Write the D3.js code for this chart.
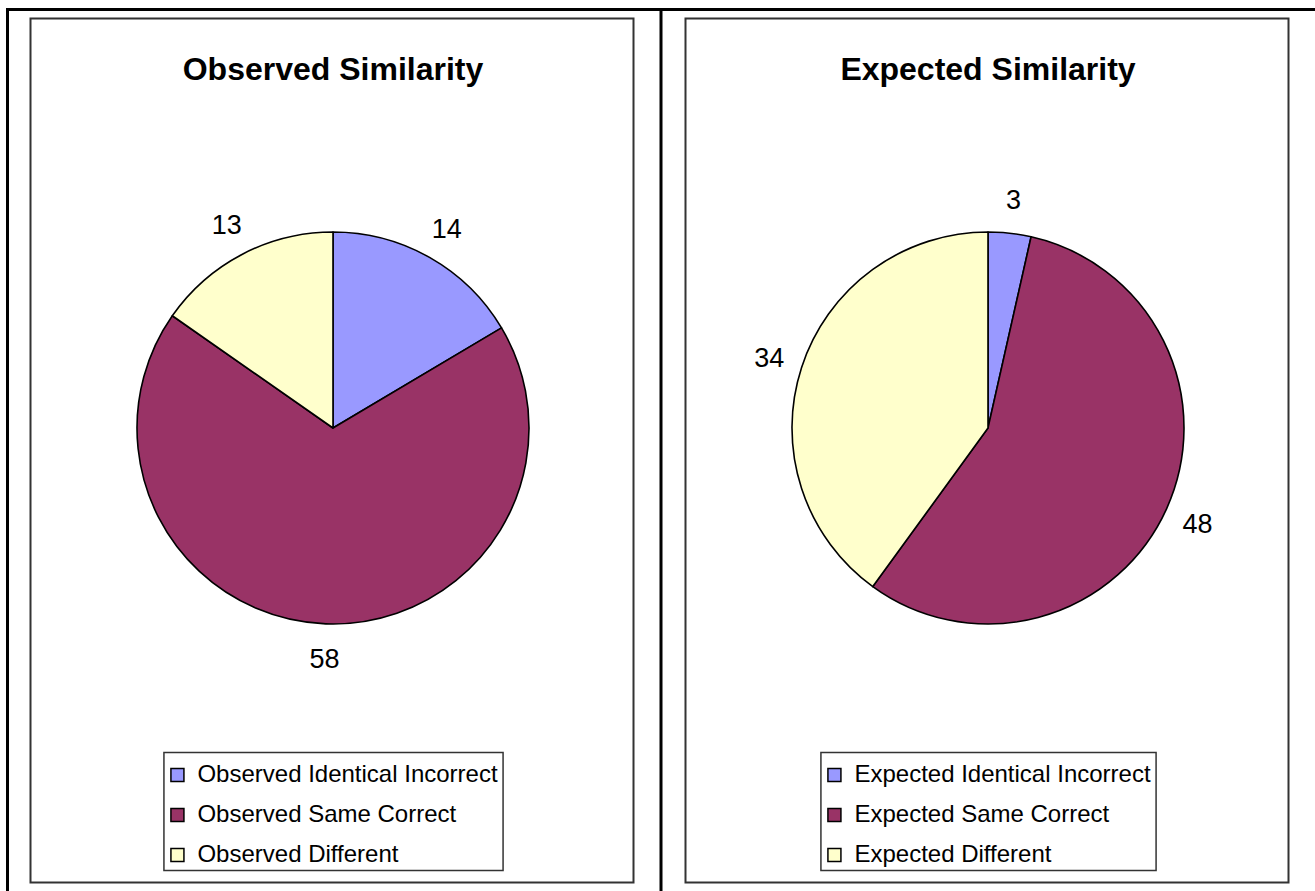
<!DOCTYPE html>
<html>
<head>
<meta charset="utf-8">
<script src="https://cdn.jsdelivr.net/npm/d3@7"></script>
<style>
  body { margin: 0; background: #fff; }
  text { font-family: "Liberation Sans", Arial, sans-serif; fill: #000; }
</style>
</head>
<body>
<script>
// Chart data
const categories = ["Identical Incorrect", "Same Correct", "Different"];
const observedValues = [14, 58, 13];
const expectedValues = [3, 48, 34];
const panelTitles = ["Observed Similarity", "Expected Similarity"];
const seriesPrefixes = ["Observed", "Expected"];
const sliceColors = ["#9999FF", "#993366", "#FFFFCC"];

// Page and panel dimensions
const svgWidth = 1315;
const svgHeight = 891;
const panelOffset = 655;
const pieRadius = 196;
const labelRadius = 230;

const svg = d3.select("body")
  .append("svg")
  .attr("width", svgWidth)
  .attr("height", svgHeight);

// Outer table lines (top, left, middle)
svg.append("line").attr("x1", 6).attr("x2", svgWidth).attr("y1", 9.5).attr("y2", 9.5)
  .attr("stroke", "#000").attr("stroke-width", 3);
svg.append("line").attr("x1", 7.5).attr("x2", 7.5).attr("y1", 8).attr("y2", svgHeight)
  .attr("stroke", "#000").attr("stroke-width", 3);
svg.append("line").attr("x1", 661).attr("x2", 661).attr("y1", 8).attr("y2", svgHeight)
  .attr("stroke", "#000").attr("stroke-width", 3);

const color = d3.scaleOrdinal().domain(categories).range(sliceColors);

const pie = d3.pie().sort(null).value(d => d.value);
const arc = d3.arc().innerRadius(0).outerRadius(pieRadius);
const labelArc = d3.arc().innerRadius(labelRadius).outerRadius(labelRadius);

[observedValues, expectedValues].forEach((values, p) => {
  const g = svg.append("g").attr("transform", `translate(${p * panelOffset}, 0)`);

  // chart frame
  g.append("rect")
    .attr("x", 30.5).attr("y", 18.5)
    .attr("width", 603).attr("height", 864)
    .attr("fill", "#fff")
    .attr("stroke", "#333")
    .attr("stroke-width", 2);

  g.append("text")
    .attr("x", 333).attr("y", 80)
    .attr("text-anchor", "middle")
    .style("font-size", "32px")
    .style("font-weight", "bold")
    .text(panelTitles[p]);

  const rows = categories.map((c, i) => ({ name: c, value: values[i] }));
  const arcs = pie(rows);

  const pieG = g.append("g").attr("transform", "translate(333, 428)");
  pieG.selectAll("path")
    .data(arcs)
    .enter()
    .append("path")
    .attr("d", arc)
    .attr("fill", d => color(d.data.name))
    .attr("stroke", "#000")
    .attr("stroke-width", 1.6)
    .attr("stroke-linejoin", "round");

  pieG.selectAll(".lbl")
    .data(arcs)
    .enter()
    .append("text")
    .attr("class", "lbl")
    .attr("transform", d => `translate(${labelArc.centroid(d)})`)
    .attr("text-anchor", "middle")
    .attr("dy", "0.36em")
    .style("font-size", "27px")
    .text(d => d.data.value);

  // Legend
  const legG = g.append("g");
  const legItems = legG.selectAll(".leg")
    .data(categories)
    .enter()
    .append("g")
    .attr("transform", (d, i) => `translate(0, ${782 + i * 40})`);
  const legTexts = legItems.append("text")
    .attr("x", 34)
    .style("font-size", "24px")
    .text(d => seriesPrefixes[p] + " " + d);
  const maxLen = d3.max(legTexts.nodes(), n => n.getComputedTextLength());
  const legWidth = 34 + maxLen + 5;
  const legX = 333 - legWidth / 2;
  legG.insert("rect", ":first-child")
    .attr("x", 0.5).attr("y", 752.5)
    .attr("width", legWidth).attr("height", 118)
    .attr("fill", "#fff")
    .attr("stroke", "#333")
    .attr("stroke-width", 1.5);
  legItems.append("rect")
    .attr("x", 7.5).attr("y", -13.5)
    .attr("width", 13).attr("height", 13)
    .attr("fill", d => color(d))
    .attr("stroke", "#000")
    .attr("stroke-width", 1.5);
  legG.attr("transform", `translate(${legX}, 0)`);
});
</script>
</body>
</html>
